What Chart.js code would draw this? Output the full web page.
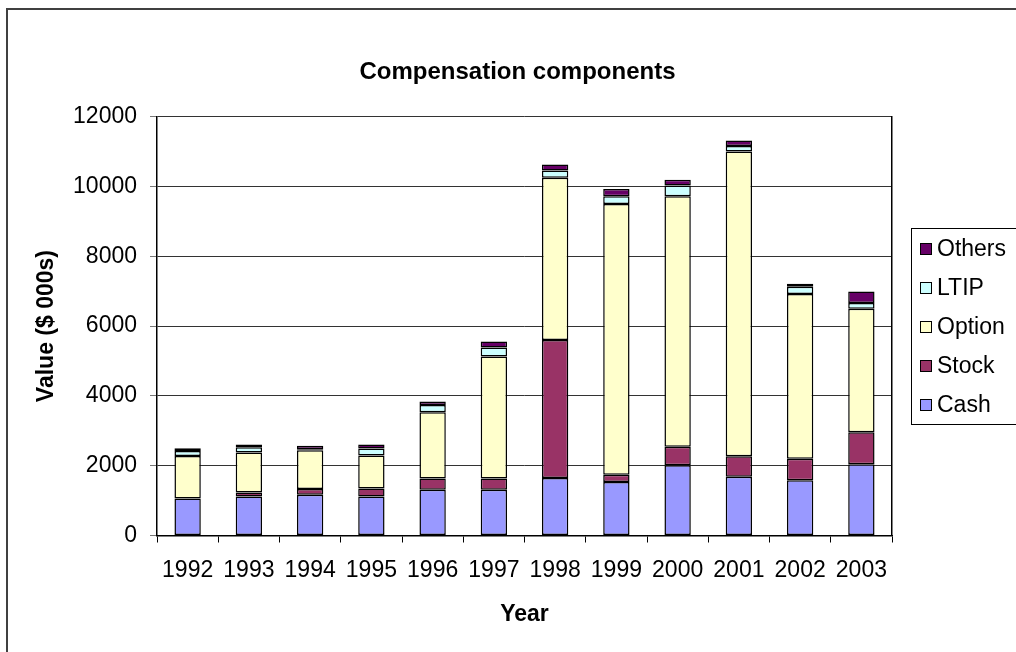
<!DOCTYPE html>
<html>
<head>
<meta charset="utf-8">
<script src="https://cdn.jsdelivr.net/npm/chart.js@4.4.1/dist/chart.umd.min.js"></script>
<style>
  html, body { margin: 0; padding: 0; background: #fff; }
</style>
</head>
<body>
<canvas id="comp-chart" width="1016" height="652"></canvas>
<script>
const years = ['1992', '1993', '1994', '1995', '1996', '1997', '1998', '1999', '2000', '2001', '2002', '2003'];
const cash   = [1060, 1120, 1170, 1120, 1310, 1310, 1650, 1530, 2010, 1680, 1580, 2040];
const stock  = [0, 110, 160, 230, 320, 320, 3950, 210, 530, 590, 620, 920];
const option = [1220, 1150, 1110, 940, 1900, 3500, 4650, 7760, 7180, 8730, 4720, 3540];
const ltip   = [140, 150, 30, 200, 210, 260, 210, 220, 310, 160, 210, 160];
const others = [80, 80, 100, 120, 100, 170, 170, 210, 160, 160, 80, 330];

const seriesNames = ['Cash', 'Stock', 'Option', 'LTIP', 'Others'];
const seriesColors = ['#9999ff', '#993366', '#ffffcc', '#ccffff', '#660066'];
const yMax = 12000;
const yStep = 2000;

const FONT = "'Liberation Sans', Arial, sans-serif";

// outer frame + boxed legend on the right (legend items come from the datasets)
const frameLegend = {
    id: 'frameLegend',
    afterDraw(chart) {
        const c = chart.ctx;
        c.save();
        c.strokeStyle = '#404040';
        c.lineWidth = 2;
        c.strokeRect(7, 9, 1100, 1000);

        c.strokeStyle = '#000';
        c.lineWidth = 1;
        c.strokeRect(911.5, 228.5, 200, 196);

        const sets = chart.data.datasets.slice().reverse();
        c.font = '23px ' + FONT;
        c.textBaseline = 'middle';
        sets.forEach((ds, i) => {
            const cy = 249 + i * 39;
            c.fillStyle = ds.backgroundColor;
            c.fillRect(920.5, cy - 5.5, 11, 11);
            c.strokeRect(920.5, cy - 5.5, 11, 11);
            c.fillStyle = '#000';
            c.fillText(ds.label, 937, cy + 1);
        });
        c.restore();
    }
};

const datasets = [cash, stock, option, ltip, others].map((vals, i) => ({
    label: seriesNames[i],
    data: vals,
    backgroundColor: seriesColors[i],
    borderColor: '#000',
    borderWidth: 1.5,
    borderSkipped: false,
    barPercentage: 0.43,
    categoryPercentage: 1
}));

new Chart(document.getElementById('comp-chart'), {
    type: 'bar',
    data: { labels: years, datasets: datasets },
    plugins: [frameLegend],
    options: {
        responsive: false,
        animation: false,
        layout: { padding: { left: 19, right: 0, top: 0, bottom: 0 } },
        plugins: {
            legend: { display: false },
            tooltip: { enabled: false },
            title: {
                display: true,
                text: 'Compensation components',
                color: '#000',
                font: { family: FONT, size: 24, weight: 'bold' },
                padding: { top: 57.6, bottom: 30.3 }
            }
        },
        scales: {
            x: {
                stacked: true,
                grid: { drawOnChartArea: false, tickLength: 7, tickColor: '#000', offset: true },
                border: { color: '#000', width: 1.5 },
                ticks: { color: '#000', padding: 14, font: { family: FONT, size: 23 }, maxRotation: 0 },
                title: {
                    display: true, text: 'Year', color: '#000',
                    font: { family: FONT, size: 23, weight: 'bold' },
                    padding: { top: 0, bottom: 24 }
                },
                afterFit: (s) => { s.height = 116.5; }
            },
            y: {
                stacked: true,
                min: 0,
                max: yMax,
                grid: { color: '#333', lineWidth: 1, tickLength: 7, tickColor: '#777' },
                border: { color: '#000', width: 1.5 },
                ticks: {
                    stepSize: yStep, color: '#000', padding: 13,
                    font: { family: FONT, size: 23 },
                    callback: (v) => String(v)
                },
                title: {
                    display: true, text: 'Value ($ 000s)', color: '#000',
                    font: { family: FONT, size: 23, weight: 'bold' },
                    padding: { top: 14, bottom: 0 }
                },
                afterFit: (s) => { s.width = 138; }
            },
            yRight: {
                position: 'right',
                grid: { display: false },
                ticks: { display: false },
                border: { display: true, color: '#000', width: 1.5 },
                afterFit: (s) => { s.width = 124; }
            }
        }
    }
});
</script>
</body>
</html>
